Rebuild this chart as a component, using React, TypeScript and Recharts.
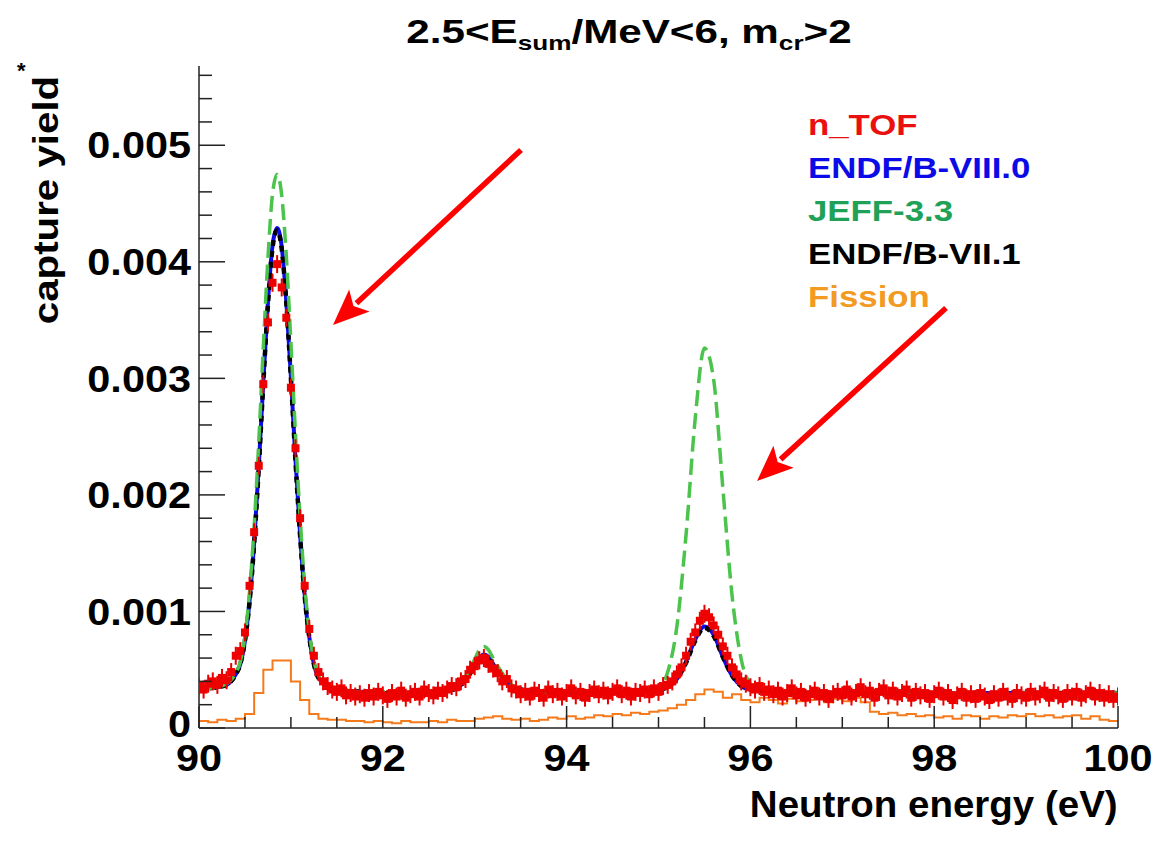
import { ComposedChart, Line, Scatter, XAxis, YAxis } from "recharts";

const modelE = [
  90.0, 90.1, 90.2, 90.3, 90.4, 90.45, 90.5, 90.55, 90.6, 90.65,
  90.7, 90.75, 90.8, 90.85, 90.9, 90.95, 91.0, 91.05, 91.1, 91.15,
  91.2, 91.25, 91.3, 91.4, 91.5, 91.6, 91.8, 92.0, 92.2, 92.4,
  92.6, 92.7, 92.8, 92.9, 93.0, 93.05, 93.1, 93.15, 93.2, 93.3,
  93.4, 93.5, 93.7, 94.0, 94.3, 94.6, 94.8, 95.0, 95.1, 95.2,
  95.3, 95.4, 95.5, 95.6, 95.7, 95.8, 95.9, 96.0, 96.1, 96.2,
  96.4, 96.7, 97.0, 97.5, 98.0, 98.5, 99.0, 99.5, 100.0,
];

// capture yield in units of 1e-3
const endf80 = [
  0.33, 0.34, 0.35, 0.37, 0.46, 0.55, 0.75, 1.09, 1.59, 2.24,
  2.97, 3.65, 4.14, 4.29, 4.13, 3.66, 3.01, 2.3, 1.66, 1.14,
  0.78, 0.55, 0.43, 0.36, 0.33, 0.32, 0.31, 0.3, 0.3, 0.3,
  0.31, 0.32, 0.34, 0.41, 0.54, 0.6, 0.63, 0.61, 0.55, 0.44,
  0.36, 0.33, 0.31, 0.3, 0.3, 0.3, 0.31, 0.33, 0.35, 0.42,
  0.57, 0.76, 0.87, 0.8, 0.61, 0.45, 0.36, 0.33, 0.32, 0.31,
  0.3, 0.3, 0.3, 0.3, 0.3, 0.3, 0.3, 0.3, 0.3,
];

const jeff33 = [
  0.33, 0.34, 0.35, 0.38, 0.47, 0.57, 0.79, 1.17, 1.73, 2.45,
  3.27, 4.03, 4.58, 4.75, 4.57, 4.05, 3.31, 2.52, 1.81, 1.23,
  0.83, 0.58, 0.45, 0.37, 0.34, 0.32, 0.31, 0.31, 0.3, 0.3,
  0.31, 0.32, 0.35, 0.44, 0.59, 0.67, 0.7, 0.67, 0.6, 0.47,
  0.37, 0.33, 0.31, 0.3, 0.3, 0.31, 0.32, 0.35, 0.48, 0.87,
  1.66, 2.66, 3.26, 2.99, 2.06, 1.14, 0.59, 0.38, 0.34, 0.32,
  0.31, 0.31, 0.3, 0.3, 0.3, 0.3, 0.3, 0.3, 0.3,
];

const endf71 = [
  0.33, 0.34, 0.35, 0.37, 0.46, 0.55, 0.75, 1.08, 1.58, 2.23,
  2.96, 3.63, 4.12, 4.27, 4.11, 3.65, 3.0, 2.29, 1.65, 1.13,
  0.78, 0.55, 0.43, 0.36, 0.33, 0.32, 0.31, 0.3, 0.3, 0.3,
  0.31, 0.32, 0.34, 0.41, 0.53, 0.59, 0.62, 0.6, 0.54, 0.44,
  0.36, 0.33, 0.31, 0.3, 0.3, 0.3, 0.31, 0.33, 0.35, 0.42,
  0.56, 0.75, 0.86, 0.79, 0.61, 0.45, 0.36, 0.33, 0.32, 0.31,
  0.3, 0.3, 0.3, 0.3, 0.3, 0.3, 0.3, 0.3, 0.3,
];

// fission histogram, 0.1 eV bins starting at 90 eV (units of 1e-3)
const fissionStart = 90;
const fissionBin = 0.1;
const fission = [
  0.06, 0.05, 0.07, 0.06, 0.08, 0.12, 0.3, 0.5, 0.58, 0.58,
  0.4, 0.24, 0.12, 0.08, 0.07, 0.07, 0.06, 0.06, 0.05, 0.06,
  0.05, 0.04, 0.06, 0.05, 0.05, 0.06, 0.05, 0.07, 0.06, 0.06,
  0.08, 0.09, 0.1, 0.08, 0.07, 0.08, 0.06, 0.07, 0.09, 0.08,
  0.1, 0.08, 0.09, 0.11, 0.1, 0.12, 0.11, 0.13, 0.12, 0.14,
  0.15, 0.17, 0.2, 0.24, 0.29, 0.33, 0.31, 0.26, 0.29, 0.24,
  0.22, 0.26, 0.24, 0.21, 0.25, 0.23, 0.24, 0.27, 0.22, 0.25,
  0.23, 0.26, 0.22, 0.14, 0.12, 0.13, 0.11, 0.12, 0.1, 0.11,
  0.09, 0.1, 0.08, 0.11, 0.1, 0.08, 0.1, 0.09, 0.11, 0.1,
  0.12, 0.1, 0.11, 0.09, 0.1, 0.11, 0.08, 0.1, 0.07, 0.06,
];

// n_TOF measured points every 0.05 eV from 90 eV (units of 1e-3)
const tofStart = 90;
const tofStep = 0.05;
const nTof = [
  0.36, 0.33, 0.38, 0.4, 0.37, 0.43, 0.41, 0.48, 0.62, 0.66,
  0.82, 1.22, 1.68, 2.25, 2.95, 3.48, 3.82, 3.98, 3.78, 3.52,
  2.92, 2.4, 1.8, 1.22, 0.85, 0.62, 0.48, 0.4, 0.36, 0.33,
  0.31, 0.34, 0.28, 0.3, 0.27, 0.29, 0.26, 0.3, 0.27, 0.31,
  0.28, 0.25, 0.3, 0.27, 0.32, 0.26, 0.29, 0.31, 0.27, 0.33,
  0.3, 0.28, 0.32, 0.3, 0.33, 0.36, 0.35, 0.4, 0.42, 0.5,
  0.53, 0.58, 0.6, 0.55, 0.51, 0.47, 0.4, 0.42, 0.34, 0.33,
  0.29, 0.31, 0.27, 0.32, 0.3, 0.26, 0.33, 0.29, 0.31, 0.27,
  0.3, 0.34, 0.28, 0.31, 0.26, 0.3, 0.33, 0.29, 0.32, 0.28,
  0.31, 0.34, 0.29, 0.32, 0.27, 0.31, 0.3, 0.33, 0.29, 0.34,
  0.31, 0.36, 0.37, 0.4, 0.46, 0.52, 0.62, 0.74, 0.82, 0.92,
  0.98, 0.95, 0.88, 0.8, 0.7, 0.62, 0.52, 0.46, 0.4, 0.38,
  0.35, 0.33, 0.36, 0.31, 0.33, 0.29, 0.32, 0.27, 0.3, 0.34,
  0.28, 0.31, 0.26, 0.29, 0.32, 0.27, 0.3, 0.25, 0.29, 0.31,
  0.28, 0.33, 0.27, 0.3, 0.35, 0.29, 0.32, 0.26, 0.31, 0.34,
  0.28, 0.32, 0.27, 0.3, 0.33, 0.26, 0.31, 0.28, 0.3, 0.25,
  0.29, 0.32, 0.27, 0.3, 0.24, 0.28, 0.31, 0.26, 0.29, 0.25,
  0.3, 0.27, 0.24, 0.29, 0.26, 0.31, 0.27, 0.25, 0.3, 0.28,
  0.26, 0.31, 0.27, 0.29, 0.32, 0.26, 0.3, 0.28, 0.25, 0.3,
  0.27, 0.31, 0.26, 0.29, 0.32, 0.27, 0.3, 0.26, 0.29, 0.25,
  0.27,
];

const xTicks = [90, 90.5, 91, 91.5, 92, 92.5, 93, 93.5, 94, 94.5, 95, 95.5, 96, 96.5, 97, 97.5, 98, 98.5, 99, 99.5, 100];
const xLabels = [90, 92, 94, 96, 98, 100];
const yTicks = [0, 0.0002, 0.0004, 0.0006, 0.0008, 0.001, 0.0012, 0.0014, 0.0016, 0.0018, 0.002, 0.0022, 0.0024, 0.0026, 0.0028, 0.003, 0.0032, 0.0034, 0.0036, 0.0038, 0.004, 0.0042, 0.0044, 0.0046, 0.0048, 0.005, 0.0052, 0.0054, 0.0056];
const yLabels = [0, 0.001, 0.002, 0.003, 0.004, 0.005];

const legend = [
  { name: "n_TOF", color: "#ea1010" },
  { name: "ENDF/B-VIII.0", color: "#0b0be8" },
  { name: "JEFF-3.3", color: "#1fa257" },
  { name: "ENDF/B-VII.1", color: "#000000" },
  { name: "Fission", color: "#f39a22" },
];

const unit = 1e-3;
const curve = (vals: number[]) => vals.map((v, i) => ({ e: modelE[i], v: v * unit }));
const endf80Pts = curve(endf80);
const jeffPts = curve(jeff33);
const endf71Pts = curve(endf71);
const fissionPts = fission.map((v, i) => ({ e: +(fissionStart + i * fissionBin).toFixed(2), v: v * unit }));
fissionPts.push({ e: 100, v: fission[fission.length - 1] * unit });
const tofPts = nTof.map((v, i) => ({ e: +(tofStart + i * tofStep).toFixed(2), v: v * unit }));

const font = '"Liberation Sans", Arial, Helvetica, sans-serif';
const axisColor = "#222";
const near = (list: number[], v: number) => list.some((t) => Math.abs(t - v) < 1e-9);

function LeftTick(p: any) {
  const { x, y, payload } = p;
  const major = near(yLabels, payload.value);
  // ROOT lifts the "0" a little so it sits above the x labels
  const ly = payload.value === 0 ? y - 4 : y;
  return (
    <g>
      <line x1={x} x2={x + (major ? 26 : 13)} y1={y} y2={y} stroke={axisColor} strokeWidth={1.5} />
      {major && (
        <text transform={`translate(${x - 8},${ly}) scale(1.12,1)`} textAnchor="end" dominantBaseline="central"
          fontSize={37} fontWeight="bold" fontFamily={font} fill="#000">
          {payload.value === 0 ? "0" : payload.value.toFixed(3)}
        </text>
      )}
    </g>
  );
}

function RightTick(p: any) {
  const { x, y, payload } = p;
  const major = near(yLabels, payload.value);
  return <line x1={x} x2={x - (major ? 26 : 13)} y1={y} y2={y} stroke={axisColor} strokeWidth={1.5} />;
}

function BottomTick(p: any) {
  const { x, y, payload } = p;
  const major = near(xLabels, payload.value);
  return (
    <g>
      <line x1={x} x2={x} y1={y} y2={y - (major ? 22 : 11)} stroke={axisColor} strokeWidth={1.5} />
      {major && (
        <text transform={`translate(${x},${y + 30}) scale(1.12,1)`} textAnchor="middle" dominantBaseline="central"
          fontSize={37} fontWeight="bold" fontFamily={font} fill="#000">
          {payload.value}
        </text>
      )}
    </g>
  );
}

function TopTick(p: any) {
  const { x, y, payload } = p;
  const major = near(xLabels, payload.value);
  return <line x1={x} x2={x} y1={y} y2={y + (major ? 22 : 11)} stroke={axisColor} strokeWidth={1.5} />;
}

function TofMark(p: any) {
  const { cx, cy } = p;
  return (
    <g>
      <line x1={cx} x2={cx} y1={cy - 9} y2={cy + 9} stroke="#e80000" strokeWidth={2} />
      <rect x={cx - 4} y={cy - 4} width={8} height={8} fill="#ee0000" />
    </g>
  );
}

const arrows = [
  [513, 142, 325, 317],
  [938, 300, 749, 473],
];

function Arrow({ x1, y1, x2, y2 }: { x1: number; y1: number; x2: number; y2: number }) {
  const dx = x2 - x1, dy = y2 - y1;
  const L = Math.hypot(dx, dy);
  const ux = dx / L, uy = dy / L;
  const hl = 36, hw = 15;
  const bx = x2 - ux * hl, by = y2 - uy * hl;
  return (
    <g>
      <line x1={x1} y1={y1} x2={bx + ux * 4} y2={by + uy * 4} stroke="#ff0000" strokeWidth={5.5} />
      <polygon
        points={`${x2},${y2} ${bx - uy * hw},${by + ux * hw} ${bx + ux * 8},${by + uy * 8} ${bx + uy * hw},${by - ux * hw}`}
        fill="#ff0000"
      />
    </g>
  );
}

export default function App() {
  const frame = { stroke: axisColor, strokeWidth: 1.5 };
  return (
    <div style={{ position: "relative", width: 1160, height: 826, fontFamily: font, background: "#fff" }}>
      <ComposedChart width={1160} height={826} margin={{ top: 58, right: 50, bottom: 46, left: 71 }}>
        <XAxis xAxisId="b" dataKey="e" type="number" domain={[90, 100]} ticks={xTicks} interval={0}
          allowDataOverflow height={60} tickLine={false} tickSize={0} tickMargin={0} axisLine={frame} tick={BottomTick} />
        <XAxis xAxisId="t" orientation="top" dataKey="e" type="number" domain={[90, 100]} ticks={xTicks} interval={0}
          allowDataOverflow height={0} tickLine={false} tickSize={0} tickMargin={0} axisLine={frame} tick={TopTick} />
        <YAxis yAxisId="l" type="number" domain={[0, 0.00568]} ticks={yTicks} interval={0}
          allowDataOverflow width={120} tickLine={false} tickSize={0} tickMargin={0} axisLine={frame} tick={LeftTick} />
        <YAxis yAxisId="r" orientation="right" type="number" domain={[0, 0.00568]} ticks={yTicks} interval={0}
          allowDataOverflow width={0} tickLine={false} tickSize={0} tickMargin={0} axisLine={frame} tick={RightTick} />

        <Line xAxisId="b" yAxisId="l" data={fissionPts} dataKey="v" type="stepAfter" stroke="#f57a1c"
          strokeWidth={2} dot={false} isAnimationActive={false} />
        <Scatter xAxisId="b" yAxisId="l" data={tofPts} dataKey="v" shape={TofMark} isAnimationActive={false} />
        <Line xAxisId="b" yAxisId="l" data={endf80Pts} dataKey="v" type="monotone" stroke="#0b0be8"
          strokeWidth={4} dot={false} isAnimationActive={false} />
        <Line xAxisId="b" yAxisId="l" data={endf71Pts} dataKey="v" type="monotone" stroke="#000"
          strokeWidth={4.5} strokeDasharray="6 5" dot={false} isAnimationActive={false} />
        <Line xAxisId="b" yAxisId="l" data={jeffPts} dataKey="v" type="monotone" stroke="#4cc34c"
          strokeWidth={3.5} strokeDasharray="16 7" dot={false} isAnimationActive={false} />
      </ComposedChart>

      <svg width={1160} height={826} style={{ position: "absolute", left: 0, top: 0, pointerEvents: "none" }}>
        {arrows.map((a, i) => (
          <Arrow key={i} x1={a[0]} y1={a[1]} x2={a[2]} y2={a[3]} />
        ))}
      </svg>

      <div style={{ position: "absolute", left: 621, top: 6, transform: "translateX(-50%) scaleX(1.24)",
        fontSize: 34, fontWeight: "bold", lineHeight: 1, whiteSpace: "nowrap" }}>
        2.5&lt;E<span style={{ fontSize: "0.62em", position: "relative", top: "0.35em" }}>sum</span>/MeV&lt;6, m
        <span style={{ fontSize: "0.62em", position: "relative", top: "0.35em" }}>cr</span>&gt;2
      </div>

      <div style={{ position: "absolute", left: 37, top: 192, transform: "translate(-50%,-50%) rotate(-90deg) scaleX(1.15)",
        fontSize: 35, fontWeight: "bold", lineHeight: 1, whiteSpace: "nowrap" }}>
        capture yield
      </div>
      <div style={{ position: "absolute", left: 9, top: 52, fontSize: 22, fontWeight: "bold", lineHeight: 1 }}>*</div>

      <div style={{ position: "absolute", right: 50, top: 778, fontSize: 37, fontWeight: "bold", lineHeight: 1,
        whiteSpace: "nowrap", transform: "scaleX(1.04)", transformOrigin: "right center" }}>
        Neutron energy (eV)
      </div>

      {legend.map((l, i) => (
        <div key={l.name} style={{ position: "absolute", left: 800, top: 103 + i * 43, color: l.color, fontSize: 29,
          fontWeight: "bold", lineHeight: 1, whiteSpace: "nowrap", transform: "scaleX(1.2)", transformOrigin: "left center" }}>
          {l.name}
        </div>
      ))}
    </div>
  );
}
